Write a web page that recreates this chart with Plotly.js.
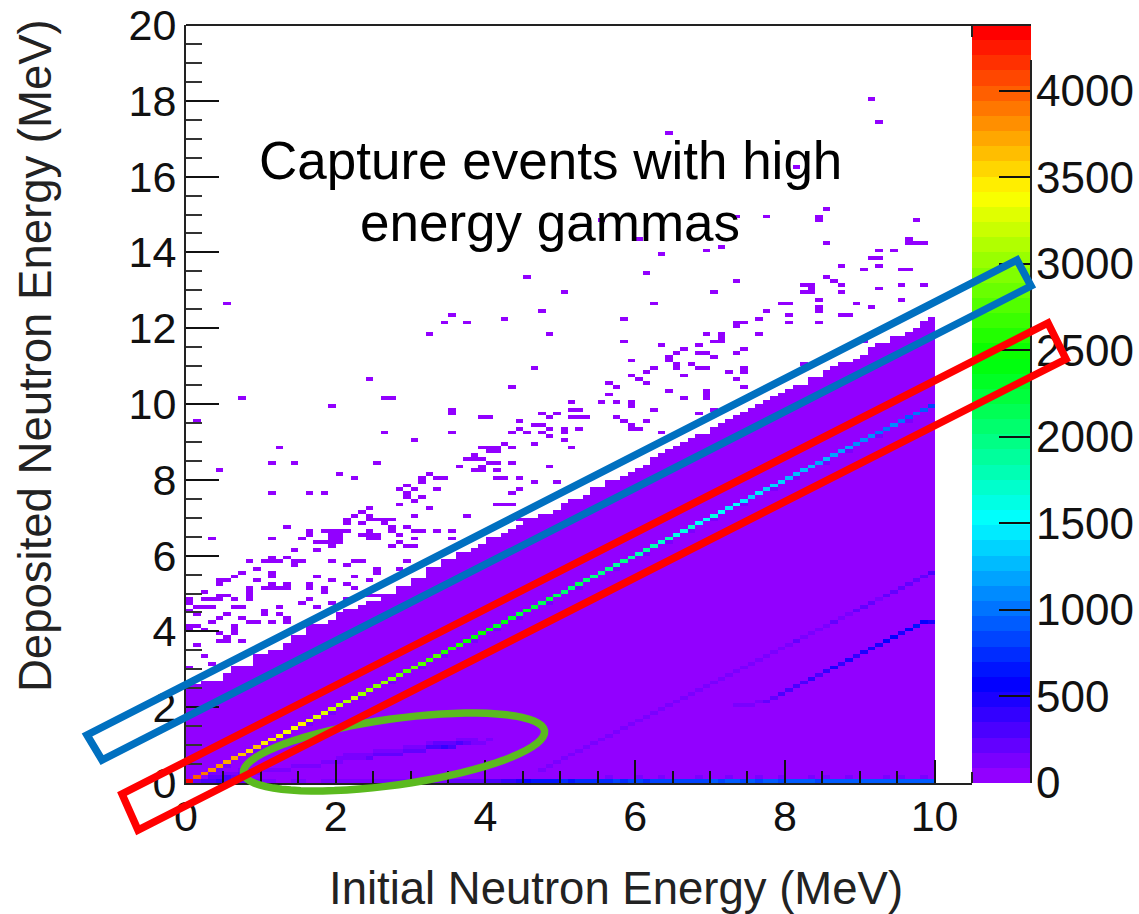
<!DOCTYPE html>
<html><head><meta charset="utf-8">
<script src="https://cdn.plot.ly/plotly-3.0.1.min.js"></script>
<style>html,body{margin:0;padding:0;background:#fff}#c{width:1139px;height:914px}</style>
</head><body><div id="c"></div>
<script>
// ---- Data (bin = 0.1 MeV on each axis) ----
const edgeRows = [26,26,27,27,27,29,31,31,31,34,34,35,35,37,39,39,42,42,42,43,
 45,46,46,47,48,48,50,50,52,52,54,54,57,57,59,59,61,61,62,63,
 65,65,66,67,68,70,70,71,71,72,74,75,75,76,78,78,80,80,81,82,
 83,84,86,87,88,89,90,91,92,92,94,95,96,97,98,99,100,101,102,103,
 104,105,105,107,107,109,110,111,111,112,113,115,116,116,118,118,119,120,122,123];
const fillCount = 1;
const ridgeCounts = [4300,3950,3900,3800,3850,3700,3720,3650,3560,3600,
 3500,3450,3480,3400,3350,3420,3300,3280,3320,3200,
 3150,3100,3180,3050,3020,2950,3000,2900,2880,2800,
 2850,2750,2700,2720,2620,2580,2620,2500,2450,2480,
 2400,2350,2380,2300,2260,2300,2200,2180,2220,2120,
 2100,2060,2120,2020,1980,2000,1930,1900,1950,1850,
 1830,1860,1760,1720,1780,1650,1620,1680,1560,1540,
 1590,1500,1480,1520,1430,1400,1450,1360,1340,1380,
 1290,1270,1310,1230,1200,1240,1160,1140,1190,1100,
 1080,1120,1040,1010,1060,970,950,990,900,860];
const ridgeShadowBins = [4,5,9,13,16,19,23,27,31,34,38,41,44,48,52,57,61,64,67,70,74,78,81,85,88,92,96];
const escape1Start = 45, escape1Offset = 44;
const escape1Counts = [70,80,90,90,100,100,110,120,110,130,130,120,110,120,130,140,130,120,
 120,130,150,130,120,130,120,140,150,160,130,120,140,170,160,130,130,150,180,170,
 150,140,170,190,170,160,180,200,180,160,190,210,200,230,210,250,280];
const escape2Bins = [73,74,75,76,77,78,79,80,81,82,83,84,85,86,87,88,89,90,91,92,93,94,95,96,97,98,99];
const escape2Rows = [20,20,20,21,21,22,23,24,25,26,27,28,29,30,31,32,33,34,35,36,37,38,39,40,41,42,42];
const escape2Counts = [100,130,120,160,200,240,280,310,280,330,370,350,400,440,390,460,430,480,510,470,560,530,500,580,640,560,520];
const captureBins = [3,4,5,6,7,8,9,10,11,12,13,14,15,16,17,18,19,20,21,22,23,24,25,26,27,28,29,30,31,32,33,34,35,36,37,38,39,40,41,42];
const captureRows = [1,1,1,1,2,2,2,3,3,3,3,4,4,4,4,5,5,5,6,6,6,6,7,7,7,7,8,8,8,9,9,9,9,10,10,10,10,11,11,11];
const captureCounts = [200,250,280,260,220,110,100,110,120,110,110,110,120,130,130,140,140,150,160,170,170,180,190,200,210,210,220,240,260,290,320,360,340,280,220,170,130,100,80,60];
const captureHalo = [100,130,140,130,110,60,60,60,70,60,60,60,70,70,80,80,80,90,90,100,100,110,110,120,130,120,130,150,160,170,190,210,200,170,130,100,80,60,50,40];
const floorCounts = [0,260,300,340,360,320,240,180,140,110,90,90,80,80,90,90,80,80,90,100,
 90,90,100,110,100,100,110,120,120,130,140,130,150,160,170,180,200,220,240,260,
 300,340,380,420,480,560,620,650,680,700,720,700,740,760,720,780,760,800,780,820,
 800,780,830,850,820,860,840,870,850,820,880,860,900,880,840,900,870,920,880,860,
 910,880,930,900,870,940,910,890,950,920,900,960,930,900,950,920,900,940,910,880];
const floorRow1Bins = [56,60,63,68,72,76,79,83,85,88,93,95,98];
const floorRow1Counts = 150;
// isolated single-count cells [x bin, y bin]
const sparseCells = [
[5,126],[35,123],[34,121],[37,121],[32,118],[24,106],[7,101],[26,101],[27,101],[19,99],[35,97],[35,98],[1,95],
[26,92],[35,92],[39,96],[30,90],[12,88],[39,88],[11,84],[14,84],[25,84],[38,86],[37,85],[38,85],[39,85],[40,84],
[36,83],[39,83],[38,82],[39,82],[4,82],[20,81],[22,80],[32,81],[31,79],[31,80],[33,80],[34,80],[29,78],[28,77],
[30,77],[33,77],[29,75],[29,76],[31,75],[11,76],[16,76],[18,76],
[13,67],[3,64],[11,64],[16,65],[16,66],[15,64],[18,66],[19,66],[19,65],[19,64],[19,63],[17,63],[18,63],[19,62],
[14,61],[17,61],[11,59],[10,58],[11,58],[12,58],[8,58],[13,59],[14,58],[14,57],[15,58],[19,58],[9,56],[7,55],
[11,54],[11,55],[6,54],[5,53],[4,52],[4,53],[9,53],[17,54],[19,53],[11,52],[10,51],[11,51],[12,51],[13,51],[13,52],
[16,51],[16,52],[18,50],[18,51],[8,48],[8,49],[8,50],[8,51],[2,50],[4,49],[5,49],[2,48],[3,48],[4,48],[6,48],
[0,47],[0,48],[16,48],[15,47],[19,47],[1,46],[2,46],[3,46],[6,46],[7,46],[12,46],[17,46],[10,44],[10,45],[5,44],
[12,44],[0,45],[1,44],[4,43],[7,43],[3,42],[8,42],[9,42],[11,42],[13,42],[13,43],[0,41],[1,41],[0,40],[2,40],
[6,39],[6,40],[6,41],[4,39],[5,38],[4,37],[5,37],[7,37],[1,36],[2,33],[3,31],[0,30],[4,30],
[29,78],[30,74],[28,73],[32,72],[33,77],[24,72],[23,71],[22,70],[24,70],[30,70],[37,70],[21,69],[21,68],[23,68],
[24,69],[25,69],[26,69],[27,69],[26,68],[27,66],[27,67],[29,67],[30,66],[31,66],[33,66],[35,66],[28,65],[30,64],
[35,64],[28,63],[27,62],[29,62],[30,62],[19,66],[20,66],[21,66],[20,65],[20,64],[20,63],[24,64],[24,65],[24,66],
[23,65],[25,65],[25,64],[29,58],[22,58],[23,58],[21,57],[28,56],[25,55],[25,56],[24,53],[22,54],[21,52],[22,51],
[24,49],[25,49],[21,48],
[73,132],[70,129],[50,129],[62,126],[79,126],[47,124],[77,124],[42,122],[58,122],[76,122],[73,120],[73,121],[74,121],
[48,118],[69,118],[76,118],[71,117],[71,118],[70,116],[71,116],[58,116],[63,115],[68,115],[66,114],[74,114],[65,113],
[68,113],[69,113],[73,113],[64,111],[64,112],[70,112],[59,111],[67,110],[65,109],[65,110],[62,109],[68,109],[69,109],
[46,109],[74,108],[74,109],[72,108],[61,108],[59,107],[66,107],[60,106],[73,106],[61,105],[56,105],[43,104],[57,104],
[74,104],[64,103],[69,101],[69,102],[69,103],[56,102],[66,101],[51,100],[55,100],[57,100],[59,99],[59,100],[51,98],
[52,98],[62,98],[70,98],[47,97],[49,97],[68,97],[40,96],[48,96],[51,96],[52,96],[53,96],[57,96],[44,95],[58,95],[61,95],
[46,94],[47,94],[59,94],[44,93],[48,93],[50,92],[50,93],[52,93],[59,93],[60,93],[43,92],[45,92],[47,92],[63,92],[48,91],
[50,90],[42,89],[46,89],[40,87],[41,87],[40,88],[41,88],[43,88],[51,88],[48,83],[43,84],[40,84],[41,84],[39,85],[39,82],
[39,83],[41,82],[41,80],[42,80],[44,80],[46,79],[49,79],[44,77],[43,76],[41,73],[42,73],[43,73],[44,69],
[91,180],[92,174],[81,162],[85,151],[77,149],[73,149],[84,148],[84,149],[97,148],[85,142],[96,142],[96,143],[97,142],[98,142],
[92,140],[94,140],[91,138],[92,138],[87,136],[92,136],[90,135],[95,135],[96,135],[85,133],[86,132],[82,131],[87,131],
[95,131],[98,131],[83,130],[83,131],[92,130],[87,129],[82,129],[83,129],[84,127],[95,127],[79,126],[80,126],[89,126],
[84,124],[84,125],[91,125],[77,124],[87,123],[88,123],[80,123],[76,122],[74,121],[80,121],[84,121],[76,118],[90,116],[82,110],
[64,171],[55,148],[60,143],[63,139],[69,140],[71,141],[45,133],[61,134]
];
// colour-scale tick labels
const paletteTicks = [0,500,1000,1500,2000,2500,3000,3500,4000];
const xTicks = [0,2,4,6,8,10];
const yTicks = [0,2,4,6,8,10,12,14,16,18,20];
const zMax = 4380, nLevels = 50;

// ---- Grid assembled from the arrays above ----
const nx = 100, ny = 200;
const z = Array.from({length: ny}, () => new Array(nx).fill(null));
edgeRows.forEach((top, ix) => { for (let r = 0; r < top; r++) z[r][ix] = fillCount; });
sparseCells.forEach(([ix, iy]) => { z[iy][ix] = fillCount; });
floorCounts.forEach((v, ix) => { if (v) z[0][ix] = v; });
floorRow1Bins.forEach(ix => { z[1][ix] = floorRow1Counts; });
captureBins.forEach((ix, i) => {
  z[captureRows[i]][ix] = captureCounts[i];
  z[captureRows[i] + 1][ix] = captureHalo[i];
});
escape1Counts.forEach((v, i) => { const ix = escape1Start + i; z[ix - escape1Offset][ix] = v; });
escape2Bins.forEach((ix, i) => { z[escape2Rows[i]][ix] = escape2Counts[i]; });
ridgeShadowBins.forEach(ix => { z[ix - 1][ix] = 140; });
ridgeCounts.forEach((v, ix) => { z[ix][ix] = v; });
const xs = Array.from({length: nx}, (_, i) => (i + 0.5) / 10);
const ys = Array.from({length: ny}, (_, i) => (i + 0.5) / 10);

// ROOT rainbow palette with 50 flat bands
const colorscale = [];
for (let i = 0; i < nLevels; i++) {
  const c = `hsl(${280 - (i + 1) * 280 / nLevels},100%,50%)`;
  colorscale.push([i / nLevels, c], [(i + 1) / nLevels, c]);
}
const paletteY = Array.from({length: nLevels}, (_, i) => (i + 0.5) * zMax / nLevels);
const paletteZ = paletteY.map(v => [v]);

// pixel helpers for the hand-drawn overlays and the labels
const W = 1139, H = 914;
const px = v => v / W, py = v => 1 - v / H;
const polyPath = pts => 'M' + pts.map(p => px(p[0]) + ',' + py(p[1])).join('L') + 'Z';
function ellipsePath(cx, cy, a, b, deg) {
  const t = deg * Math.PI / 180, pts = [];
  for (let i = 0; i < 72; i++) {
    const u = i / 72 * 2 * Math.PI;
    const ex = a * Math.cos(u), ey = b * Math.sin(u);
    pts.push([cx + ex * Math.cos(t) - ey * Math.sin(t), cy + ex * Math.sin(t) + ey * Math.cos(t)]);
  }
  return polyPath(pts);
}
const overlay = (path, color) => ({type: 'path', xref: 'paper', yref: 'paper', path,
  line: {color, width: 7.5}, fillcolor: 'rgba(0,0,0,0)', layer: 'above'});
const rule = (x0, y0, x1, y1, w) => ({type: 'line', xref: 'paper', yref: 'paper',
  x0: px(x0), y0: py(y0), x1: px(x1), y1: py(y1), line: {color: '#222', width: w}, layer: 'above'});

const FONT = 'Liberation Sans, Arial, sans-serif';
const label = (text, x, y, size, extra) => Object.assign({text, xref: 'paper', yref: 'paper',
  x: px(x), y: py(y), xanchor: 'center', yanchor: 'middle', showarrow: false,
  font: {family: FONT, size, color: '#000'}}, extra || {});

const traces = [
 {type: 'heatmap', x: xs, y: ys, z, zmin: 0, zmax: zMax, colorscale, showscale: false,
  zsmooth: false, hoverongaps: false, xaxis: 'x', yaxis: 'y'},
 {type: 'heatmap', x: [0.5], y: paletteY, z: paletteZ, zmin: 0, zmax: zMax, colorscale, showscale: false,
  zsmooth: false, xaxis: 'x2', yaxis: 'y2'}
];
const axisFont = {family: FONT, size: 43, color: '#111'};
const barFont = {family: FONT, size: 44, color: '#111'};
const layout = {
  width: W, height: H, margin: {l: 0, r: 0, t: 0, b: 0}, paper_bgcolor: '#fff', plot_bgcolor: '#fff',
  showlegend: false,
  xaxis: {domain: [px(186), px(972)], range: [0, 10.5], tickvals: xTicks, ticks: 'inside', ticklen: 23, tickwidth: 2,
    tickcolor: '#111', showgrid: false, zeroline: false, showline: true, linecolor: '#222', linewidth: 2,
    tickfont: axisFont, ticklabelstandoff: -6,
    minor: {ticks: 'inside', ticklen: 12, tickwidth: 2, tickcolor: '#111', dtick: 0.5, showgrid: false}},
  yaxis: {domain: [py(783), py(25)], range: [0, 20], tickvals: yTicks, ticks: 'inside', ticklen: 33, tickwidth: 2,
    tickcolor: '#111', showgrid: false, zeroline: false, showline: true, linecolor: '#222', linewidth: 2,
    tickfont: axisFont, ticklabelstandoff: -1,
    minor: {ticks: 'inside', ticklen: 16, tickwidth: 2, tickcolor: '#333', dtick: 0.5, showgrid: false}},
  xaxis2: {domain: [px(972), px(1031)], range: [0, 1], visible: false, anchor: 'y2', fixedrange: true},
  yaxis2: {domain: [py(783), py(25)], range: [0, zMax], anchor: 'x2', side: 'right', tickvals: paletteTicks,
    ticks: 'inside', ticklen: 32, tickwidth: 2, tickcolor: '#111', showgrid: false, zeroline: false,
    showline: false, tickfont: barFont, ticklabelstandoff: 4},
  shapes: [
    rule(186, 25, 1031, 25, 2), rule(1031, 60, 1031, 783, 2),
    rule(972, 25, 972, 37, 2), rule(972, 772, 972, 783, 2),
    overlay(ellipsePath(394, 752, 152, 33, -8), '#5bba1f'),
    overlay(polyPath([[87,735],[102,760],[1031,286],[1017,260]]), '#0070c0'),
    overlay(polyPath([[122,794],[138,830],[1066,359],[1048,323]]), '#ff0000')
  ],
  annotations: [
    label('Capture events with high', 550, 160, 53),
    label('energy gammas', 550, 222, 53),
    label('Initial Neutron Energy (MeV)', 616, 888, 45.5, {font: {family: FONT, size: 45.5, color: '#222'}}),
    label('Deposited Neutron Energy (MeV)', 35, 356, 45.5, {textangle: -90, font: {family: FONT, size: 45.5, color: '#222'}})
  ]
};
Plotly.newPlot('c', traces, layout, {displayModeBar: false, staticPlot: true});
</script></body></html>
